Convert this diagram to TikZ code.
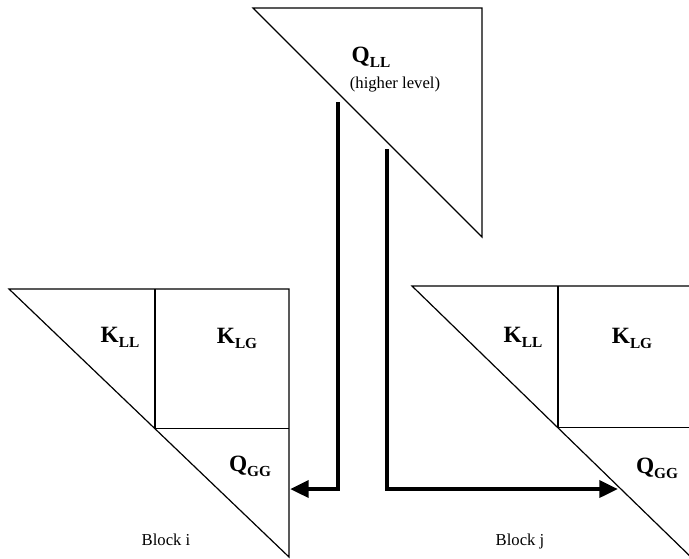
\documentclass[tikz,border=0pt]{standalone}
\usepackage{fontspec}
\setmainfont{Liberation Serif}
\usepackage{tikz}
\usetikzlibrary{arrows.meta}
\newcommand{\mlab}[2]{% #1 big letter, #2 subscript
  \textbf{#1}\raisebox{-4pt}{\fontsize{11.5}{12}\selectfont\bfseries #2}}
\newcommand{\blocktri}[5]{% #1 apex x, #2 apex y, #3 width, #4 height, #5 split x
  \draw[thinline] (#1,#2) -- (#1+#3,#2) -- (#1+#3,#2+#4) -- cycle;
  \draw[thinline] (#1+#5,#2) -- ({#1+#5},{#2+#5/#3*#4}) -- ({#1+#3},{#2+#5/#3*#4});
}

\begin{document}
\begin{tikzpicture}[x=0.75pt,y=-0.75pt,
    thinline/.style={line width=0.9pt},
    bar/.style={line width=3.4pt,-{Triangle[length=14pt,width=12.5pt]}},
    every node/.style={inner sep=0pt,anchor=base},
    big/.style={font=\fontsize{17.5}{18}\selectfont},
    small/.style={font=\fontsize{12.5}{14}\selectfont}]
      \clip (0,0) rectangle (689,558);
      % higher level
      \draw[thinline] (253,8) -- (482,8) -- (482,237) -- cycle;
      \node[big] (QLL) at (371,62) {\mlab{Q}{LL}};
      \node[small] (HL) at (395,88) {(higher level)};
      % block i and block j
      \blocktri{9}{289}{280}{268}{146}
      \blocktri{412}{286}{283}{275}{146}
      \node[big] (KLLi) at (120,342) {\mlab{K}{LL}};
      \node[big] (KLGi) at (237,343) {\mlab{K}{LG}};
      \node[big] (QGGi) at (250,471) {\mlab{Q}{GG}};
      \node[small] (Bi) at (166,545) {Block i};
      \node[big] (KLLj) at (523,342) {\mlab{K}{LL}};
      \node[big] (KLGj) at (632,343) {\mlab{K}{LG}};
      \node[big] (QGGj) at (657,473) {\mlab{Q}{GG}};
      \node[small] (Bj) at (520,545) {Block j};
      % transfer arrows
      \coordinate (TL) at (338,102);
      \coordinate (TR) at (387,149);
      \coordinate (Ei) at (290,489);
      \coordinate (Ej) at (618,489);
      \draw[bar] (TL) |- (Ei);
      \draw[bar] (TR) |- (Ej);
    \end{tikzpicture}
\end{document}
